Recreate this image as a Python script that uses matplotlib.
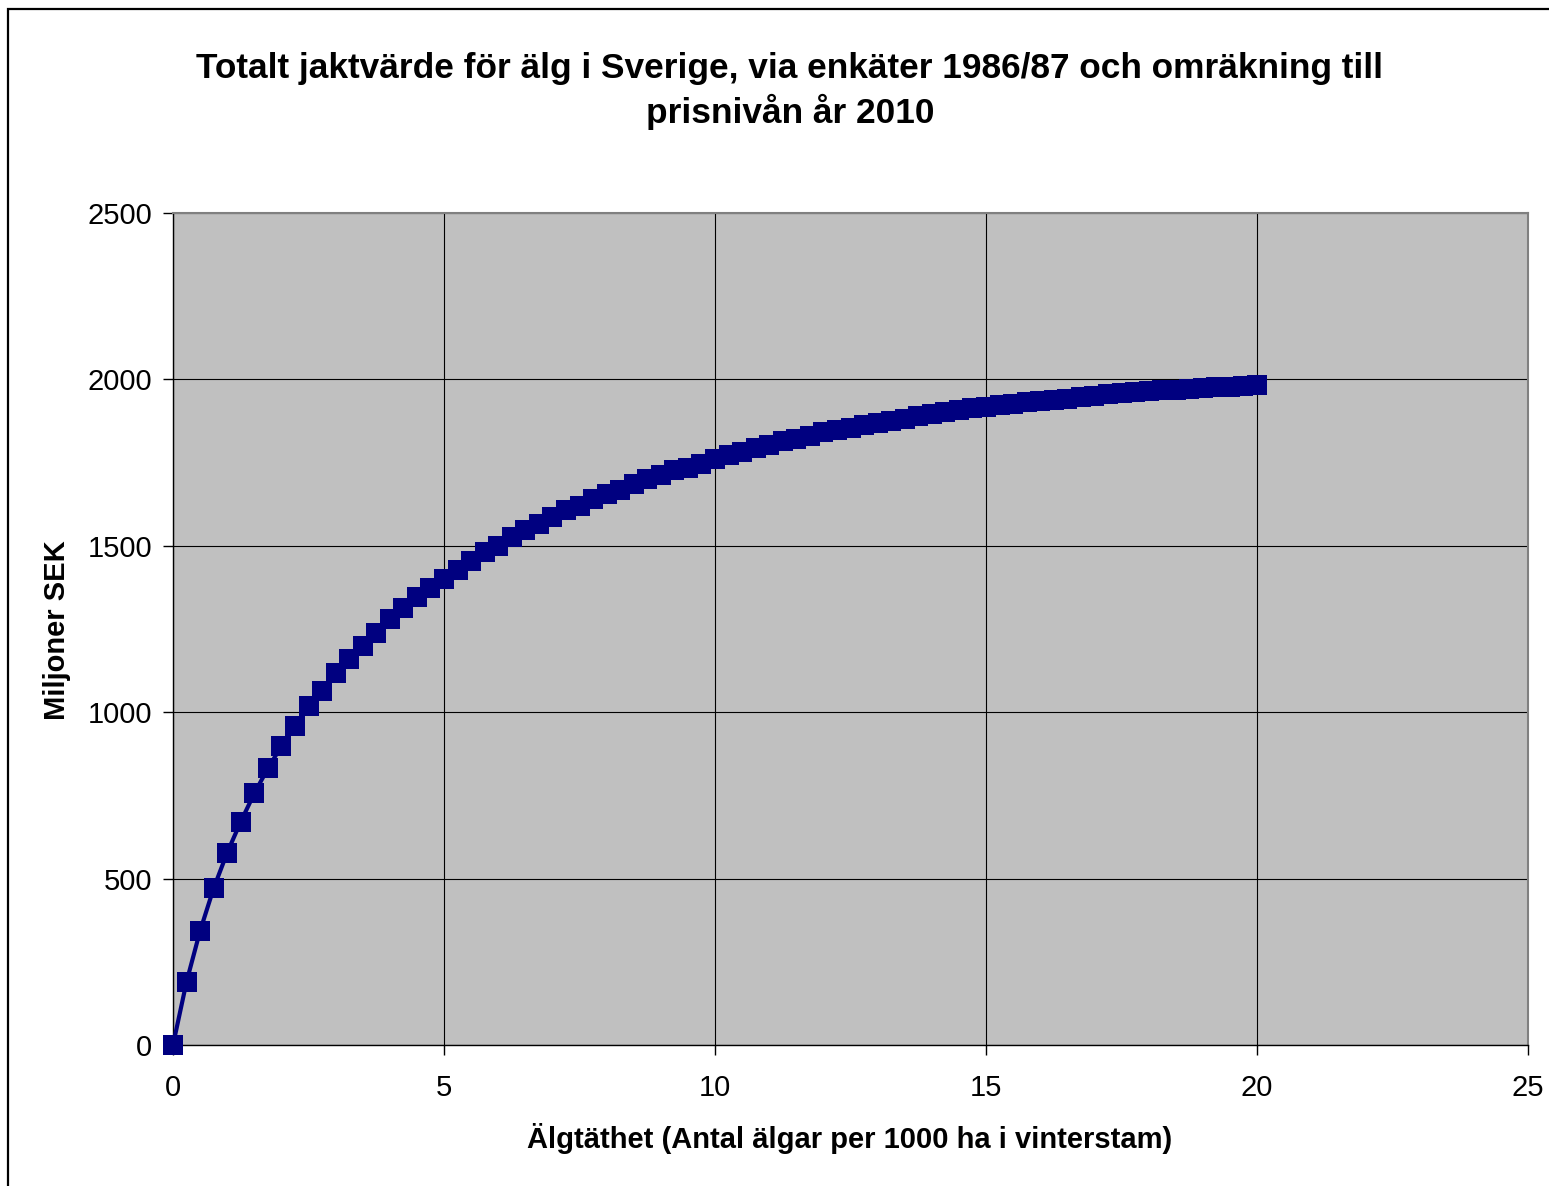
import matplotlib
matplotlib.use("Agg")
import matplotlib.pyplot as plt
from matplotlib.patches import Rectangle

# Data
DENSITY_STEP = 0.25
VALUES = [
    0, 190, 343, 471, 578, 671, 756, 831, 898, 958,
    1019, 1065, 1119, 1159, 1199, 1239, 1279, 1314, 1346, 1374,
    1400, 1426, 1453, 1480, 1500, 1526, 1548, 1567, 1587, 1607,
    1621, 1641, 1655, 1667, 1687, 1700, 1714, 1727, 1734, 1747,
    1760, 1774, 1781, 1795, 1802, 1815, 1822, 1829, 1842, 1848,
    1855, 1862, 1869, 1875, 1882, 1889, 1896, 1903, 1909, 1913,
    1916, 1923, 1927, 1931, 1935, 1939, 1942, 1947, 1951, 1955,
    1958, 1961, 1964, 1967, 1969, 1972, 1974, 1976, 1978, 1980,
    1982,
]
DENSITY = [i * DENSITY_STEP for i in range(len(VALUES))]

X_TICKS = [0, 5, 10, 15, 20, 25]
Y_TICKS = [0, 500, 1000, 1500, 2000, 2500]

TITLE = "Totalt jaktvärde för älg i Sverige, via enkäter 1986/87 och omräkning till\nprisnivån år 2010"
XLABEL = "Älgtäthet (Antal älgar per 1000 ha i vinterstam)"
YLABEL = "Miljoner SEK"

W, H = 1549, 1186
plt.rcParams['font.family'] = ['Liberation Sans', 'DejaVu Sans']

fig = plt.figure(figsize=(W / 100, H / 100), dpi=100)
fig.patch.set_facecolor('white')

# outer chart frame (runs off the right and bottom edge)
fig.patches.append(Rectangle((8 / W, -0.05), 1.1, 1 - 9 / H + 0.05,
                             transform=fig.transFigure, fill=False,
                             edgecolor='black', linewidth=1.6))

ax = fig.add_axes([173 / W, 1 - 1045 / H, (1528 - 173) / W, (1045 - 213) / H])
ax.set_facecolor('#C0C0C0')
ax.set_xlim(0, 25)
ax.set_ylim(0, 2500)
ax.set_xticks(X_TICKS)
ax.set_yticks(Y_TICKS)
ax.grid(True, color='black', linewidth=0.8)
ax.set_axisbelow(True)
for side in ['top', 'right']:
    ax.spines[side].set_color('#808080')
    ax.spines[side].set_linewidth(1.5)
for side in ['left', 'bottom']:
    ax.spines[side].set_color('black')
    ax.spines[side].set_linewidth(1.0)
ax.tick_params(direction='out', length=7, width=1, labelsize=21)
ax.tick_params(axis='x', pad=14)
ax.tick_params(axis='y', pad=8)

ax.plot(DENSITY, VALUES, color='#000080', linewidth=3, marker='s',
        markersize=15, markeredgewidth=0, clip_on=False, zorder=3)

fig.text(790 / W, 1 - 91 / H, TITLE, ha='center', va='center',
         fontsize=25.4, fontweight='bold', linespacing=1.3)
fig.text(850 / W, 1 - 1138 / H, XLABEL, ha='center', va='center',
         fontsize=21, fontweight='bold')
fig.text(57 / W, 1 - 630 / H, YLABEL, ha='center', va='center',
         fontsize=21, fontweight='bold', rotation=90)

fig.savefig('out.png', dpi=100)
